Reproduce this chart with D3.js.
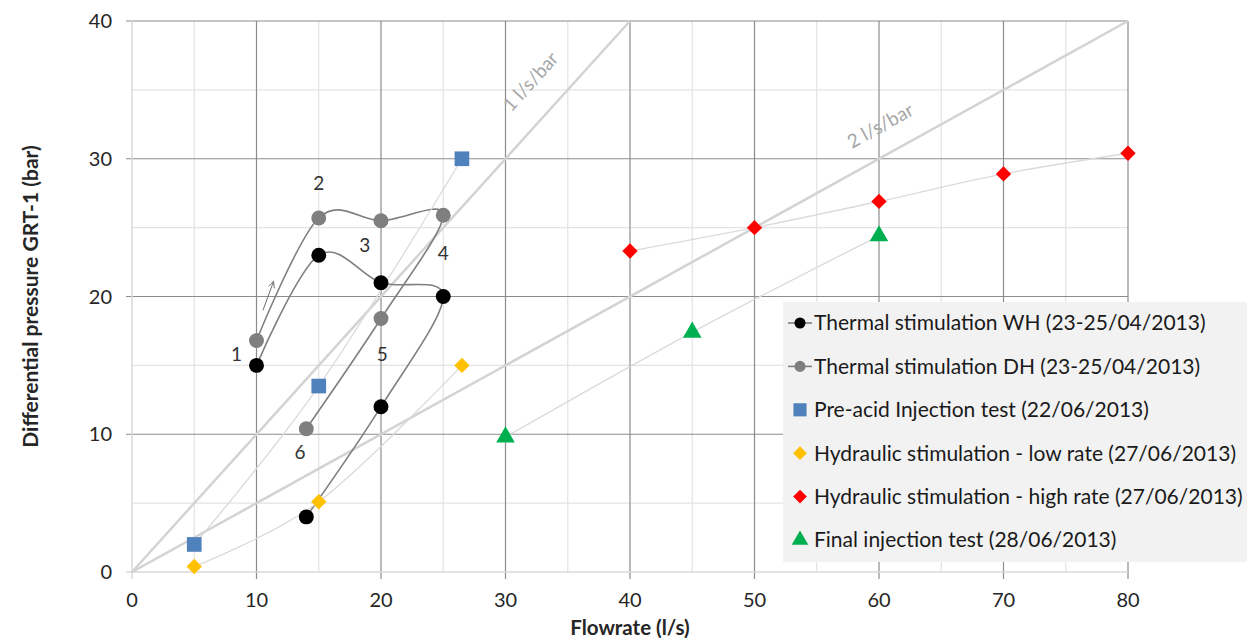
<!DOCTYPE html>
<html>
<head>
<meta charset="utf-8">
<script src="https://cdn.jsdelivr.net/npm/d3@7"></script>
<style>
  body { margin: 0; background: #fff; }
  svg { font-family: Lato, "Open Sans", sans-serif; }
</style>
</head>
<body>
<div id="chart"></div>
<script>
// data
var flowWH = [10, 15, 20, 25, 20, 14],
    pressWH = [15, 23, 21, 20, 12, 4];
var flowDH = [10, 15, 20, 25, 20, 14],
    pressDH = [16.8, 25.7, 25.5, 25.9, 18.4, 10.4];
var flowPre = [5, 15, 26.5],
    pressPre = [2, 13.5, 30];
var flowLow = [5, 15, 26.5],
    pressLow = [0.4, 5.1, 15];
var flowHigh = [40, 50, 60, 70, 80],
    pressHigh = [23.3, 25, 26.9, 28.9, 30.4];
var flowFinal = [30, 45, 60],
    pressFinal = [9.8, 17.4, 24.4];

var xTicks = [0, 10, 20, 30, 40, 50, 60, 70, 80];
var yTicks = [0, 10, 20, 30, 40];

// cycle labels 1..6 (data coords)
var stepLabels = ["1", "2", "3", "4", "5", "6"],
    stepX = [8.4, 15, 18.7, 25, 20.1, 13.5],
    stepY = [15.8, 28.2, 23.7, 23.1, 15.8, 8.7];

// productivity reference lines (l/s per bar)
var refRates = [1, 2],
    refLabels = ["1 l/s/bar", "2 l/s/bar"],
    refLabX = [32.0, 60.1],
    refLabY = [35.6, 32.4];

var legendNames = [
  "Thermal stimulation WH (23-25/04/2013)",
  "Thermal stimulation DH (23-25/04/2013)",
  "Pre-acid Injection test (22/06/2013)",
  "Hydraulic stimulation - low rate (27/06/2013)",
  "Hydraulic stimulation - high rate (27/06/2013)",
  "Final injection test (28/06/2013)"
];

var W = 1248, H = 644;
var margin = {top: 21, right: 120, bottom: 72, left: 132},
    width = W - margin.left - margin.right,
    height = H - margin.top - margin.bottom;

var svg = d3.select("#chart").append("svg")
  .attr("width", W).attr("height", H);
var g = svg.append("g")
  .attr("transform", "translate(" + margin.left + "," + margin.top + ")");

var x = d3.scaleLinear().domain([0, 80]).range([0, width]);
var y = d3.scaleLinear().domain([0, 40]).range([height, 0]);

// minor grid (every 5)
var minorX = d3.range(5, 80, 10), minorY = d3.range(5, 40, 10);
g.selectAll(".mx").data(minorX).enter().append("line")
  .attr("x1", d => x(d)).attr("x2", d => x(d))
  .attr("y1", 0).attr("y2", height)
  .attr("stroke", "#e3e3e3").attr("stroke-width", 1.2);
g.selectAll(".my").data(minorY).enter().append("line")
  .attr("x1", 0).attr("x2", width)
  .attr("y1", d => y(d)).attr("y2", d => y(d))
  .attr("stroke", "#e3e3e3").attr("stroke-width", 1.2);

// major grid
g.selectAll(".gx").data(xTicks.slice(1)).enter().append("line")
  .attr("x1", d => x(d)).attr("x2", d => x(d))
  .attr("y1", 0).attr("y2", height + 7)
  .attr("stroke", "#8c8c8c").attr("stroke-width", 1.2);
g.selectAll(".gy").data(yTicks.slice(1)).enter().append("line")
  .attr("x1", -6).attr("x2", width)
  .attr("y1", d => y(d)).attr("y2", d => y(d))
  .attr("stroke", "#8c8c8c").attr("stroke-width", 1.2);

// axis lines (light)
g.append("line").attr("x1", 0).attr("x2", 0).attr("y1", 0).attr("y2", height)
  .attr("stroke", "#d9d9d9").attr("stroke-width", 1.5);
g.append("line").attr("x1", -6).attr("x2", width).attr("y1", height).attr("y2", height)
  .attr("stroke", "#d9d9d9").attr("stroke-width", 1.5);
g.append("line").attr("x1", 0).attr("x2", 0).attr("y1", height).attr("y2", height + 7)
  .attr("stroke", "#d9d9d9").attr("stroke-width", 1.5);

// tick labels
g.selectAll(".xt").data(xTicks).enter().append("text")
  .attr("x", d => x(d)).attr("y", height + 35)
  .attr("text-anchor", "middle").attr("font-size", 20).attr("fill", "#262626")
  .text(d => d);
g.selectAll(".yt").data(yTicks).enter().append("text")
  .attr("x", -20).attr("y", d => y(d)).attr("dy", "0.35em")
  .attr("text-anchor", "end").attr("font-size", 20).attr("fill", "#262626")
  .text(d => d);

// axis titles
svg.append("text")
  .attr("x", margin.left + x(40)).attr("y", 635)
  .attr("text-anchor", "middle").attr("font-size", 20.5).attr("font-weight", "bold")
  .attr("fill", "#262626").text("Flowrate (l/s)");
svg.append("text")
  .attr("transform", "translate(31," + (margin.top + y(20)) + ") rotate(-90)")
  .attr("text-anchor", "middle").attr("dy", "0.35em")
  .attr("font-size", 21).attr("font-weight", "bold")
  .attr("fill", "#262626").text("Differential pressure GRT-1 (bar)");

// reference lines
refRates.forEach(function(r, i) {
  var xEnd = Math.min(80, 40 * r);
  g.append("line")
    .attr("x1", x(0)).attr("y1", y(0))
    .attr("x2", x(xEnd)).attr("y2", y(xEnd / r))
    .attr("stroke", "#d3d3d3").attr("stroke-width", 2.5);
  var ang = -Math.atan((y(0) - y(10 / r)) / (x(10) - x(0))) * 180 / Math.PI;
  g.append("text")
    .attr("transform", "translate(" + x(refLabX[i]) + "," + y(refLabY[i]) + ") rotate(" + ang + ")")
    .attr("text-anchor", "middle").attr("dy", "0.35em")
    .attr("font-size", 19).attr("fill", "#a6a6a6")
    .text(refLabels[i]);
});

function pts(xs, ys) { return xs.map((d, i) => [d, ys[i]]); }
var line = d3.line().x(d => x(d[0])).y(d => y(d[1])).curve(d3.curveCardinal.tension(0));

var series = [
  {name: legendNames[0], data: pts(flowWH, pressWH), line: "#7f7f7f", lw: 1.6, color: "#000000", shape: "circle"},
  {name: legendNames[1], data: pts(flowDH, pressDH), line: "#7f7f7f", lw: 1.6, color: "#7f7f7f", shape: "circle"},
  {name: legendNames[2], data: pts(flowPre, pressPre), line: "#dadada", lw: 1.3, color: "#4f81bd", shape: "square"},
  {name: legendNames[3], data: pts(flowLow, pressLow), line: "#dadada", lw: 1.3, color: "#ffc000", shape: "diamond"},
  {name: legendNames[4], data: pts(flowHigh, pressHigh), line: "#dadada", lw: 1.3, color: "#ff0000", shape: "diamond"},
  {name: legendNames[5], data: pts(flowFinal, pressFinal), line: "#dadada", lw: 1.3, color: "#00b050", shape: "triangle"}
];

var symType = {circle: d3.symbolCircle, square: d3.symbolSquare, diamond: d3.symbolDiamond2, triangle: d3.symbolTriangle};
var symSize = {circle: 175, square: 215, diamond: 150, triangle: 150};

// lines under the markers
series.forEach(function(s) {
  g.append("path").datum(s.data).attr("d", line)
    .attr("fill", "none").attr("stroke", s.line).attr("stroke-width", s.lw);
});
series.forEach(function(s) {
  g.selectAll(null).data(s.data).enter().append("path")
    .attr("transform", d => "translate(" + x(d[0]) + "," + y(d[1]) + ")")
    .attr("d", d3.symbol().type(symType[s.shape]).size(symSize[s.shape]))
    .attr("fill", s.color);
});

// step numbers
g.selectAll(".step").data(stepLabels).enter().append("text")
  .attr("x", (d, i) => x(stepX[i])).attr("y", (d, i) => y(stepY[i]))
  .attr("dy", "0.35em").attr("text-anchor", "middle")
  .attr("font-size", 19).attr("fill", "#333").text(d => d);

// direction arrow
var a0 = [10.52, 19.0], a1 = [11.37, 21.1];
var ax0 = x(a0[0]), ay0 = y(a0[1]), ax1 = x(a1[0]), ay1 = y(a1[1]);
var th = Math.atan2(ay1 - ay0, ax1 - ax0), hl = 7, hw = 0.45;
g.append("line")
  .attr("x1", ax0).attr("y1", ay0).attr("x2", ax1).attr("y2", ay1)
  .attr("stroke", "#6d6d6d").attr("stroke-width", 1);
g.append("path")
  .attr("d", "M" + (ax1 - hl * Math.cos(th - hw)) + "," + (ay1 - hl * Math.sin(th - hw)) +
             "L" + ax1 + "," + ay1 +
             "L" + (ax1 - hl * Math.cos(th + hw)) + "," + (ay1 - hl * Math.sin(th + hw)))
  .attr("fill", "none").attr("stroke", "#6d6d6d").attr("stroke-width", 1);

// legend
var leg = svg.append("g").attr("transform", "translate(783,302)");
leg.append("rect").attr("width", 464).attr("height", 260).attr("fill", "#f2f2f2");
var li = leg.selectAll(".li").data(series).enter().append("g")
  .attr("transform", (d, i) => "translate(17," + (21 + i * 43.4) + ")");
li.filter(d => d.shape === "circle").append("line")
  .attr("x1", -12).attr("x2", 12).attr("stroke", "#7f7f7f").attr("stroke-width", 1.6);
li.append("path")
  .attr("d", d => d3.symbol().type(symType[d.shape]).size(symSize[d.shape] * (d.shape === "circle" ? 0.55 : 0.8))())
  .attr("fill", d => d.color);
li.append("text").attr("x", 14).attr("dy", "0.35em")
  .attr("font-size", 21).attr("fill", "#1a1a1a").text(d => d.name);
</script>
</body>
</html>
